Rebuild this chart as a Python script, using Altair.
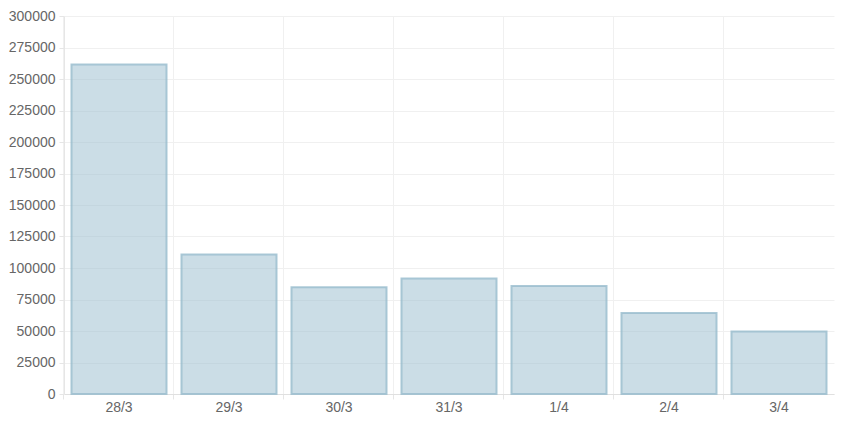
import altair as alt
import pandas as pd

days = ["28/3", "29/3", "30/3", "31/3", "1/4", "2/4", "3/4"]
values = [261500, 110800, 84800, 91600, 85800, 64300, 49600]

df = pd.DataFrame({"day": days, "value": values})

y_ticks = list(range(0, 300001, 25000))

chart = alt.Chart(df).mark_bar(
    fill="#97bbcd", fillOpacity=0.5,
    stroke="#97bbcd", strokeOpacity=0.8, strokeWidth=2,
).encode(
    x=alt.X("day:N", sort=days, title=None,
            scale=alt.Scale(range=[0, 770], paddingInner=0.136, paddingOuter=0.068),
            axis=alt.Axis(labelAngle=0, bandPosition=-0.0789, grid=True, gridColor="#f0f0f0",
                          domainColor="#e0e0e0", tickColor="#e6e6e6", tickSize=5,
                          labelPadding=1, labelFont="Liberation Sans", labelFontSize=14,
                          labelColor="#666666")),
    y=alt.Y("value:Q", title=None,
            scale=alt.Scale(domain=[0, 300000], nice=False),
            axis=alt.Axis(values=y_ticks, format="d", grid=True, gridColor="#f0f0f0",
                          domainColor="#e6e6e6", tickColor="#e6e6e6", tickSize=5,
                          labelPadding=4, labelFont="Liberation Sans", labelFontSize=14,
                          labelColor="#666666")),
).properties(
    width=774, height=378,
    autosize=alt.AutoSizeParams(type="none"),
    padding={"left": 56, "top": 8, "right": 0, "bottom": 20},
).configure_view(stroke=None)

chart.save("out.html", embed_options={"renderer": "svg", "actions": False})
